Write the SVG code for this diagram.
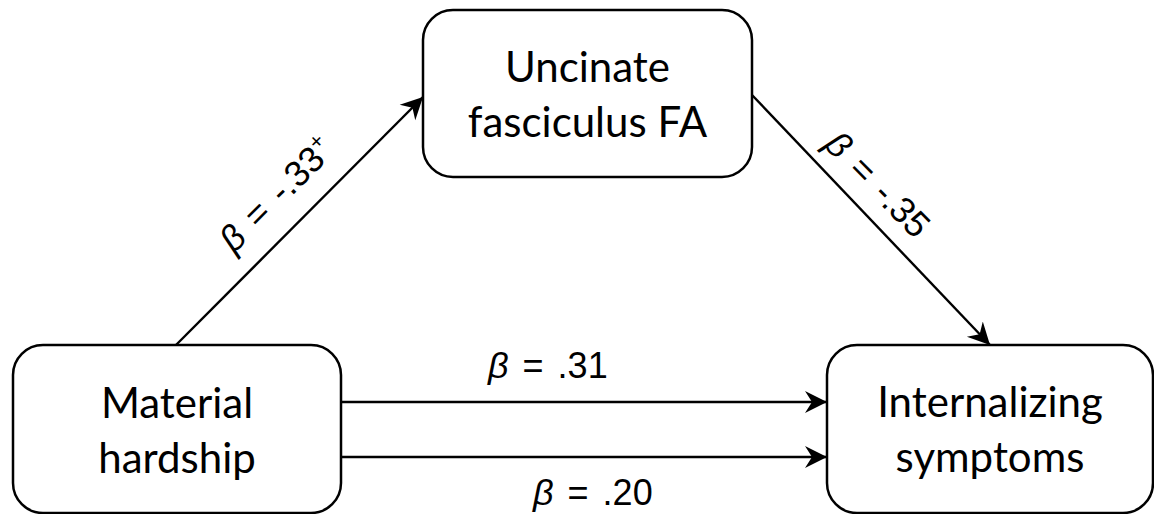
<svg xmlns="http://www.w3.org/2000/svg" width="1154" height="514" viewBox="0 0 1154 514">
<style>
.box{fill:#fff;stroke:#000;stroke-width:2.5}
.nt{font-family:Lato,"Open Sans",sans-serif;font-size:42px;fill:#000;text-anchor:middle}
.lb{font-family:"Liberation Sans",Arial,sans-serif;font-size:36px;fill:#000;word-spacing:4px}
.ln{stroke:#000;stroke-width:2.4;fill:none;marker-end:url(#ah)}
</style>
<defs>
<marker id="ah" markerUnits="userSpaceOnUse" markerWidth="24" markerHeight="24" refX="22" refY="11" orient="auto" viewBox="0 0 24 22">
<path d="M0,0 L22,11 L0,22 L7,11 z" fill="#000"/>
</marker>
</defs>
<rect width="1154" height="514" fill="#fff"/>
<g id="connectors">
<line class="ln" x1="176" y1="345" x2="423" y2="97"/>
<line class="ln" x1="752" y1="95" x2="990" y2="345"/>
<line class="ln" x1="341" y1="402" x2="827" y2="402"/>
<line class="ln" x1="341" y1="457" x2="827" y2="457"/>
<text class="lb" text-anchor="middle" transform="translate(285,203) rotate(-45)"><tspan font-style="italic">β</tspan> = -.33<tspan font-size="22" dy="-14">+</tspan></text>
<text class="lb" text-anchor="middle" transform="translate(869,193) rotate(45.5)"><tspan font-style="italic">β</tspan> = -.35</text>
<text class="lb" x="488" y="378"><tspan font-style="italic">β</tspan> = .31</text>
<text class="lb" x="533" y="505"><tspan font-style="italic">β</tspan> = .20</text>
</g>
<g id="node-material">
<rect class="box" x="13" y="345" width="328" height="168" rx="30"/>
<text class="nt" x="177" y="418">Material</text>
<text class="nt" x="177" y="473">hardship</text>
</g>
<g id="node-uncinate">
<rect class="box" x="423" y="10" width="329" height="167" rx="30"/>
<text class="nt" x="587.5" y="82">Uncinate</text>
<text class="nt" x="587.5" y="137">fasciculus FA</text>
</g>
<g id="node-internalizing">
<rect class="box" x="827" y="345" width="326" height="168" rx="30"/>
<text class="nt" x="990" y="417">Internalizing</text>
<text class="nt" x="990" y="472">symptoms</text>
</g>
</svg>
